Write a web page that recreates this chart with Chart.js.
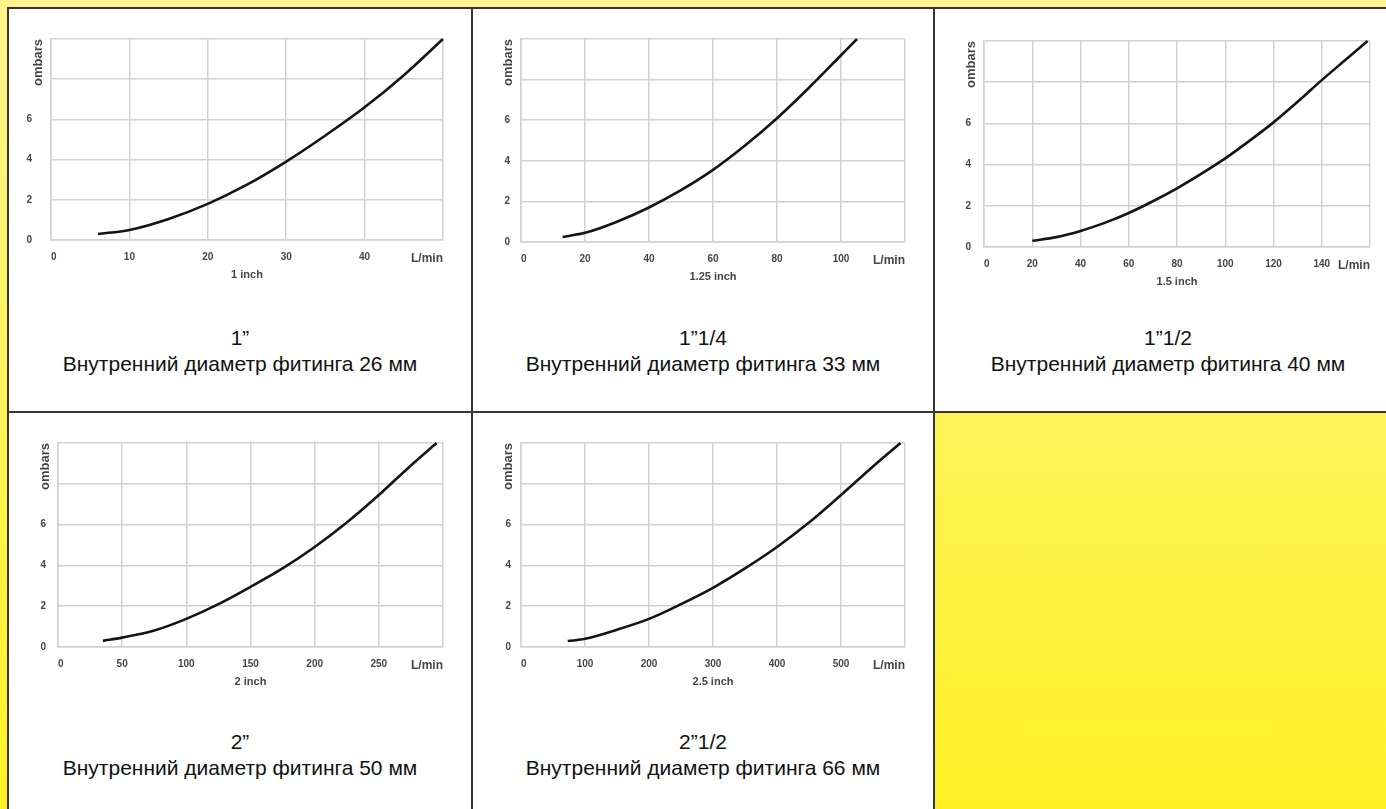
<!DOCTYPE html>
<html>
<head>
<meta charset="utf-8">
<script src="https://cdn.jsdelivr.net/npm/chart.js@4/dist/chart.umd.min.js"></script>
<style>
html, body { margin: 0; padding: 0; }
body {
    width: 1386px; height: 809px; overflow: hidden; position: relative;
    background: linear-gradient(to bottom, #fff48e 0%, #fff125 100%);
    font-family: "Liberation Sans", Arial, sans-serif;
}
.cell { position: absolute; background: #fff; border: 2px solid #363636; box-sizing: border-box; }
.cap { position: absolute; left: 0; right: 0; text-align: center; font-size: 21px; line-height: 26px; color: #111; }
canvas { position: absolute; }
</style>
</head>
<body>

<div class="cell" style="left:7px;top:7px;width:466px;height:406px;">
    <div class="cap" style="top:316px;">1”<br>Внутренний диаметр фитинга 26 мм</div>
</div>
<div class="cell" style="left:471px;top:7px;width:464px;height:406px;">
    <div class="cap" style="top:316px;">1”1/4<br>Внутренний диаметр фитинга 33 мм</div>
</div>
<div class="cell" style="left:933px;top:7px;width:470px;height:406px;">
    <div class="cap" style="top:316px;">1”1/2<br>Внутренний диаметр фитинга 40 мм</div>
</div>
<div class="cell" style="left:7px;top:411px;width:466px;height:420px;">
    <div class="cap" style="top:316px;">2”<br>Внутренний диаметр фитинга 50 мм</div>
</div>
<div class="cell" style="left:471px;top:411px;width:464px;height:420px;">
    <div class="cap" style="top:316px;">2”1/2<br>Внутренний диаметр фитинга 66 мм</div>
</div>

<script>
// pressure loss curves, flow in L/min, pressure in mbar (x100)
const flow1 = [6, 10, 15, 20, 25, 30, 35, 40, 45, 50];
const bar1  = [0.3, 0.5, 1.05, 1.8, 2.75, 3.9, 5.2, 6.6, 8.2, 10];

const flow2 = [13, 20, 30, 40, 50, 60, 70, 80, 90, 100, 105];
const bar2  = [0.25, 0.45, 1.0, 1.7, 2.55, 3.55, 4.75, 6.1, 7.6, 9.2, 10];

const flow3 = [20, 30, 40, 50, 60, 70, 80, 90, 100, 110, 120, 130, 140, 150, 159];
const bar3  = [0.3, 0.48, 0.78, 1.17, 1.65, 2.22, 2.85, 3.55, 4.3, 5.15, 6.05, 7.05, 8.1, 9.1, 10];

const flow4 = [35, 50, 75, 100, 125, 150, 175, 200, 225, 250, 275, 295];
const bar4  = [0.3, 0.46, 0.81, 1.38, 2.1, 2.95, 3.85, 4.9, 6.1, 7.45, 8.9, 10];

const flow5 = [73, 100, 150, 200, 250, 300, 350, 400, 450, 500, 550, 593];
const bar5  = [0.29, 0.4, 0.85, 1.38, 2.1, 2.9, 3.85, 4.9, 6.1, 7.45, 8.85, 10];

const xMaxes  = [50, 120, 160, 300, 600];
const xSteps  = [10, 20, 20, 50, 100];
const sizes   = ["1 inch", "1.25 inch", "1.5 inch", "2 inch", "2.5 inch"];
const yTicksShown = [0, 2, 4, 6];
const yTitle = "ombars";
const xUnit = "L/min";

// plot area of each picture on the page
const boxes = [
    {L: 51,  T: 39,  R: 443,  B: 240, pad: 19},
    {L: 521, T: 39,  R: 905,  B: 242, pad: 11},
    {L: 984, T: 41,  R: 1370, B: 247, pad: 13},
    {L: 58,  T: 443, R: 443,  B: 647, pad: 12},
    {L: 521, T: 443, R: 905,  B: 647, pad: 10}
];

const M_L = 45, M_T = 32, M_R = 12, M_B = 45;
const gridCol = '#d2d2d2';
const txtCol = '#454545';

function makeChart(n, flow, bar) {
    const box = boxes[n];
    const xMax = xMaxes[n];
    const w = box.R - box.L + M_L + M_R;
    const h = box.B - box.T + M_T + M_B;
    const cv = document.createElement('canvas');
    cv.width = w; cv.height = h;
    cv.style.left = (box.L - M_L) + 'px';
    cv.style.top = (box.T - M_T) + 'px';
    cv.style.width = w + 'px';
    cv.style.height = h + 'px';
    document.body.appendChild(cv);

    const points = [];
    for (let i = 0; i < flow.length; i++) {
        points.push({x: flow[i], y: bar[i]});
    }

    return new Chart(cv.getContext('2d'), {
        type: 'line',
        data: {
            datasets: [{
                data: points,
                borderColor: '#141414',
                borderWidth: 2.6,
                pointRadius: 0,
                cubicInterpolationMode: 'monotone',
                clip: false
            }]
        },
        options: {
            responsive: false,
            animation: false,
            layout: {padding: {top: M_T, right: M_R, left: 0, bottom: 0}},
            plugins: {legend: {display: false}, tooltip: {enabled: false}},
            scales: {
                x: {
                    type: 'linear', min: 0, max: xMax,
                    afterFit: s => { s.height = M_B; },
                    grid: {color: gridCol, lineWidth: 1.5, drawTicks: false},
                    border: {color: gridCol, width: 1.5},
                    ticks: {
                        stepSize: xSteps[n], align: 'inner', padding: 11,
                        maxRotation: 0, autoSkip: false, color: txtCol,
                        font: c => ({family: 'Liberation Sans', weight: 'bold',
                            size: (c.tick && c.tick.value === xMax) ? 12 : 10}),
                        callback: v => v === xMax ? xUnit : v
                    },
                    title: {
                        display: true, text: sizes[n], color: txtCol,
                        font: {family: 'Liberation Sans', weight: 'bold', size: 11},
                        padding: {top: 0, bottom: 3.4}
                    }
                },
                y: {
                    min: 0, max: 10,
                    afterFit: s => { s.width = M_L; },
                    grid: {color: gridCol, lineWidth: 1.5, drawTicks: false},
                    border: {color: gridCol, width: 1.5},
                    ticks: {
                        stepSize: 2, padding: box.pad, color: txtCol,
                        font: {family: 'Liberation Sans', weight: 'bold', size: 10},
                        callback: v => yTicksShown.includes(v) ? v : ''
                    },
                    title: {
                        display: true, text: yTitle, align: 'end', color: txtCol,
                        font: {family: 'Liberation Sans', weight: 'bold', size: 13},
                        padding: {top: 24.7, bottom: 0}
                    }
                }
            }
        }
    });
}

makeChart(0, flow1, bar1);
makeChart(1, flow2, bar2);
makeChart(2, flow3, bar3);
makeChart(3, flow4, bar4);
makeChart(4, flow5, bar5);
</script>
</body>
</html>
